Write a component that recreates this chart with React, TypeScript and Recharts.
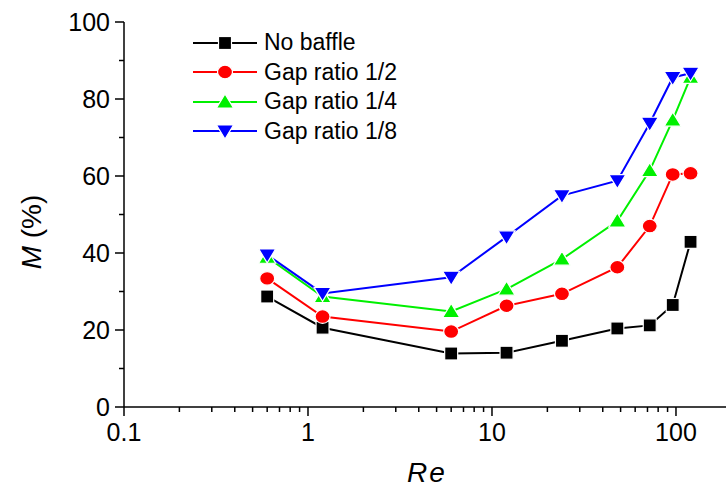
import React from "react";
import { Legend, Line, LineChart, XAxis, YAxis } from "recharts";

// Re values shared by every series
const reValues = [0.6, 1.2, 6, 12, 24, 48, 72, 96, 120];

// M (%) per series
const noBaffle = [28.7, 20.6, 13.9, 14.1, 17.2, 20.4, 21.2, 26.5, 42.9];
const gapHalf = [33.4, 23.5, 19.6, 26.3, 29.4, 36.3, 47, 60.4, 60.7];
const gapQuarter = [38.9, 28.7, 24.8, 30.6, 38.4, 48.3, 61.4, 74.5, 85.6];
const gapEighth = [39.5, 29.5, 33.7, 44.2, 54.9, 58.8, 73.7, 85.6, 86.7];

const xTicks = [
  0.1, 0.2, 0.3, 0.4, 0.5, 0.6, 0.7, 0.8, 0.9,
  1, 2, 3, 4, 5, 6, 7, 8, 9,
  10, 20, 30, 40, 50, 60, 70, 80, 90,
  100,
];
const xMajor = [0.1, 1, 10, 100];
const yTicks = [0, 10, 20, 30, 40, 50, 60, 70, 80, 90, 100];
const yMajor = [0, 20, 40, 60, 80, 100];

const series = [
  { key: "noBaffle", name: "No baffle", color: "#000000", shape: "square" },
  { key: "gapHalf", name: "Gap ratio 1/2", color: "#ff0000", shape: "circle" },
  { key: "gapQuarter", name: "Gap ratio 1/4", color: "#00f000", shape: "up" },
  { key: "gapEighth", name: "Gap ratio 1/8", color: "#0000ff", shape: "down" },
];

const rows = reValues.map((re, i) => ({
  re,
  noBaffle: noBaffle[i],
  gapHalf: gapHalf[i],
  gapQuarter: gapQuarter[i],
  gapEighth: gapEighth[i],
}));

const FONT = "Arial, 'Liberation Sans', Helvetica, sans-serif";

const Marker = ({ cx, cy, shape, color }: { cx: number; cy: number; shape: string; color: string }) => {
  if (cx == null || cy == null) return null;
  const common = { fill: color, stroke: "#fff", strokeWidth: 1.2 };
  if (shape === "square") {
    return <rect x={cx - 6.5} y={cy - 6.5} width={13} height={13} {...common} />;
  }
  if (shape === "circle") {
    return <ellipse cx={cx} cy={cy} rx={7.5} ry={6.8} {...common} />;
  }
  if (shape === "up") {
    return <polygon points={`${cx},${cy - 8} ${cx - 8.5},${cy + 6} ${cx + 8.5},${cy + 6}`} {...common} />;
  }
  return <polygon points={`${cx},${cy + 8} ${cx - 8.5},${cy - 6} ${cx + 8.5},${cy - 6}`} {...common} />;
};

const XTick = (props: any) => {
  const { x, y, payload } = props;
  const major = xMajor.includes(payload.value);
  return (
    <g>
      <line x1={x} y1={y} x2={x} y2={y + (major ? 9 : 5)} stroke="#000" strokeWidth={1.5} />
      {major && (
        <text x={x} y={y + 34} textAnchor="middle" fontSize={25} fontFamily={FONT} fill="#000">
          {payload.value}
        </text>
      )}
    </g>
  );
};

const YTick = (props: any) => {
  const { x, y, payload } = props;
  const major = yMajor.includes(payload.value);
  return (
    <g>
      <line x1={x} y1={y} x2={x - (major ? 9 : 5)} y2={y} stroke="#000" strokeWidth={1.5} />
      {major && (
        <text x={x - 14} y={y + 9} textAnchor="end" fontSize={25} fontFamily={FONT} fill="#000">
          {payload.value}
        </text>
      )}
    </g>
  );
};

const LegendBox = () => (
  <div style={{ fontFamily: FONT, fontSize: 23, color: "#000" }}>
    {series.map((s) => (
      <div key={s.key} style={{ display: "flex", alignItems: "center", height: 29.5 }}>
        <svg width={66} height={20} style={{ marginRight: 6 }}>
          <line x1={1} y1={10} x2={65} y2={10} stroke={s.color} strokeWidth={2} />
          <Marker cx={33} cy={10} shape={s.shape} color={s.color} />
        </svg>
        <span>{s.name}</span>
      </div>
    ))}
  </div>
);

export default function App() {
  return (
    <div style={{ position: "absolute", left: 0, top: 0, width: 726, height: 494, background: "#fff" }}>
      <LineChart width={726} height={494} data={rows} margin={{ top: 22, right: 0, bottom: 0, left: 0 }}>
        <XAxis
          dataKey="re"
          type="number"
          scale="log"
          domain={[0.1, 187]}
          allowDataOverflow
          ticks={xTicks}
          interval={0}
          tick={<XTick />}
          tickLine={false}
          tickSize={0}
          tickMargin={0}
          axisLine={{ stroke: "#000", strokeWidth: 1.5 }}
          height={87}
          label={() => (
            <text
              x={427}
              y={482}
              textAnchor="middle"
              fontSize={28}
              fontStyle="italic"
              letterSpacing={2}
              fontFamily={FONT}
              fill="#000"
            >
              Re
            </text>
          )}
        />
        <YAxis
          type="number"
          domain={[0, 100]}
          ticks={yTicks}
          interval={0}
          tick={<YTick />}
          tickLine={false}
          tickSize={0}
          tickMargin={0}
          axisLine={{ stroke: "#000", strokeWidth: 1.5 }}
          width={124}
          label={() => (
            <text
              x={41}
              y={232}
              transform="rotate(-90 41 232)"
              textAnchor="middle"
              fontSize={28}
              fontFamily={FONT}
              fill="#000"
            >
              <tspan fontStyle="italic">M</tspan> (%)
            </text>
          )}
        />
        <Legend
          layout="vertical"
          verticalAlign="middle"
          align="center"
          content={<LegendBox />}
          wrapperStyle={{ position: "absolute", left: 192, top: 28, width: 270 }}
        />
        {series.map((s) => (
          <Line
            key={s.key}
            dataKey={s.key}
            name={s.name}
            stroke={s.color}
            strokeWidth={2}
            isAnimationActive={false}
            activeDot={false}
            dot={(props: any) => (
              <Marker key={`${s.key}-${props.index}`} cx={props.cx} cy={props.cy} shape={s.shape} color={s.color} />
            )}
          />
        ))}
      </LineChart>
    </div>
  );
}
